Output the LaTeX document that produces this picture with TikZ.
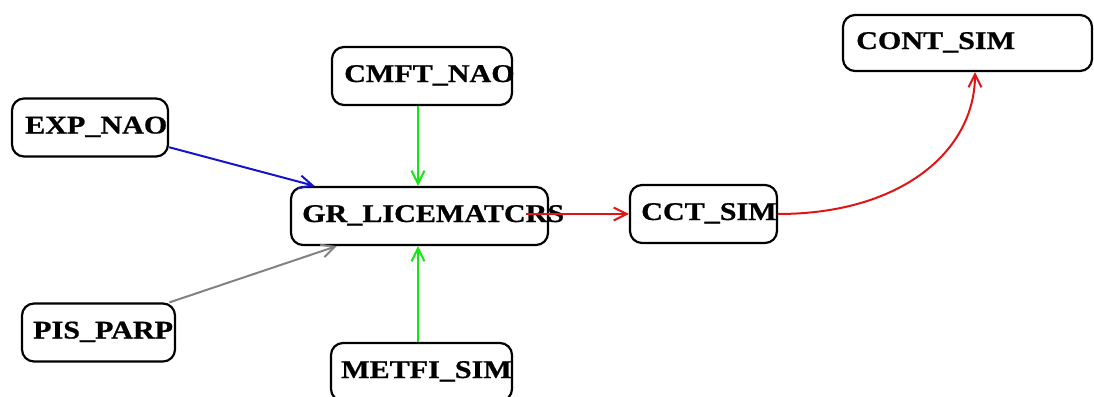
\documentclass[tikz,border=0pt]{standalone}
\usepackage{fontspec}
\newfontfamily\nodefont[FakeStretch=1.18,BoldFeatures={FakeBold=0.8}]{Liberation Serif}
\usetikzlibrary{arrows.meta}
\definecolor{eblue}{RGB}{20,20,200}
\definecolor{egreen}{RGB}{20,230,20}
\definecolor{ered}{RGB}{225,20,20}
\definecolor{egray}{RGB}{130,130,130}
\begin{document}
\begin{tikzpicture}[x=1pt,y=-1pt,
  box/.style={draw=black,line width=2.2pt,rounded corners=12pt,inner sep=0pt,minimum height=58pt},
  lbl/.style={anchor=base west,inner sep=0pt,font=\nodefont\bfseries\fontsize{25.5}{30}\selectfont},
  edge/.style={line width=2pt,-{Straight Barb[length=13pt,width=13pt,line width=2pt]}}]
\useasboundingbox (0,0) rectangle (1094,396);
% boxes
\node[box,minimum width=156pt] (exp) at (90,127.5) {};
\node[box,minimum width=180pt] (cmft) at (422,76) {};
\node[box,minimum width=257pt] (gr) at (419.5,216) {};
\node[box,minimum width=147pt] (cct) at (703.5,214) {};
\node[box,minimum width=249pt,minimum height=56pt] (cont) at (967.5,43) {};
\node[box,minimum width=153pt] (pis) at (98.5,332.5) {};
\node[box,minimum width=181pt] (metfi) at (421.5,372) {};
% labels
\node[lbl] (expt) at (25,133.5) {EXP\_NAO};
\node[lbl] (cmftt) at (344,82) {CMFT\_NAO};
\node[lbl] (grt) at (302,222) {GR\_LICEMATCRS};
\node[lbl] (cctt) at (641,220) {CCT\_SIM};
\node[lbl] (contt) at (856,49) {CONT\_SIM};
\node[lbl] (pist) at (33,338.5) {PIS\_PARP};
\node[lbl] (metfit) at (341,378) {METFI\_SIM};
% edges
\draw[edge,eblue] (exp.-14) -- (gr.164.5);
\draw[edge,egreen] ([xshift=-1.5pt]gr.north |- cmft.south) -- ([xshift=-1.5pt]gr.north);
\draw[edge,egreen] ([xshift=-1.5pt]gr.south |- metfi.north) -- ([xshift=-1.5pt]gr.south);
\draw[edge,egray] (pis.23) -- (gr.200);
\draw[edge,ered] ([xshift=-23pt]gr.east |- cct.west) -- (cct.west);
\draw[edge,ered] (cct.east) .. controls ([xshift=123pt]cct.east) and ([xshift=7.5pt,yshift=-79pt]cont.south) .. ([xshift=7.5pt]cont.south);
\end{tikzpicture}
\end{document}
